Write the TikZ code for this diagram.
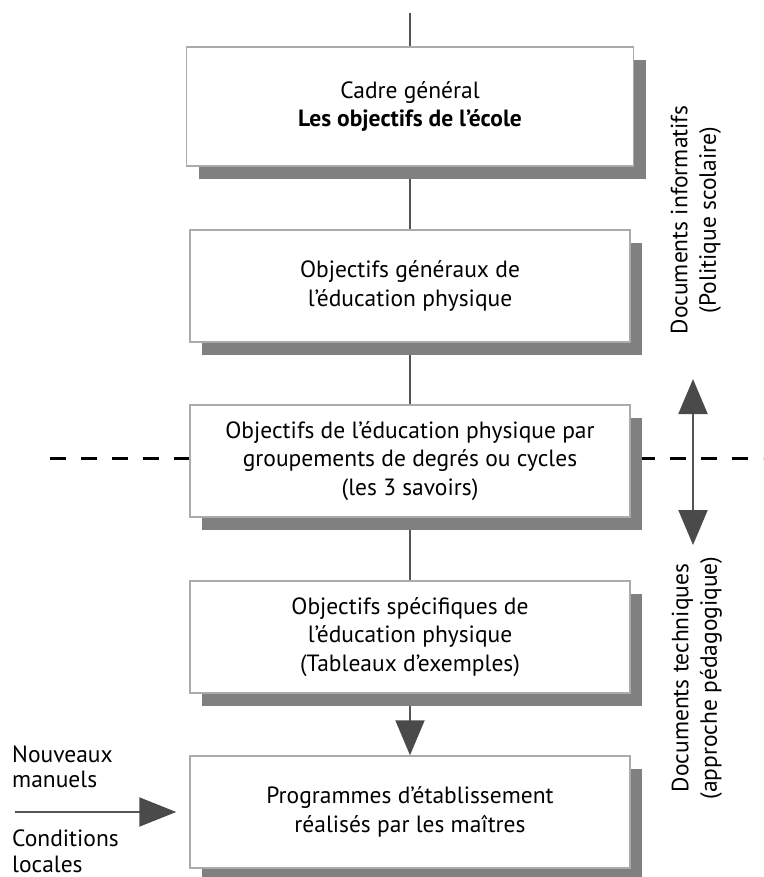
\documentclass[tikz,border=0pt]{standalone}
\usepackage{fontspec}
\setmainfont{PT Sans}
\usetikzlibrary{arrows.meta,shadows,backgrounds}
\definecolor{shgray}{HTML}{808080}
\definecolor{bordergray}{HTML}{ABABAB}
\definecolor{linegray}{HTML}{555555}
\definecolor{headgray}{HTML}{4A4A4A}
\tikzset{
  box/.style={draw=bordergray, line width=1.5pt, fill=white,
    minimum width=440pt, minimum height=112pt, inner sep=0pt, align=center,
    font=\fontsize{23.5}{28.5}\selectfont,
    drop shadow={shadow xshift=12pt, shadow yshift=-13pt, fill=shgray, opacity=1, draw=none}},
  conn/.style={draw=linegray, line width=2pt},
  bighead/.tip={Triangle[length=35pt,width=29pt,fill=headgray,color=headgray]},
  bigarrow/.style={conn, -bighead},
  dashline/.style={draw=black, line width=3pt, dash pattern=on 16pt off 15pt},
  lbl/.style={font=\fontsize{23.5}{28.5}\selectfont, inner sep=0pt},
}
\begin{document}
\begin{tikzpicture}[x=1pt,y=1pt]
\useasboundingbox (0,0) rectangle (763,-877);
% boxes
\node[box, minimum width=447pt, minimum height=119pt] (b1) at (410,-106.5)
  {Cadre général\\\textbf{Les objectifs de l’école}};
\node[box] (b2) at (410,-286) {Objectifs généraux de\\l’éducation physique};
\node[box] (b3) at (410,-461) {Objectifs de l’éducation physique par\\groupements de degrés ou cycles\\(les 3 savoirs)};
\node[box] (b4) at (410,-637) {Objectifs spécifiques de\\l’éducation physique\\(Tableaux d’exemples)};
\node[box] (b5) at (410,-812) {Programmes d’établissement\\réalisés par les maîtres};
% free coordinates
\coordinate (top) at (410,-13);
\coordinate (dl) at (50,-458);
\coordinate (dr) at (763,-458);
\coordinate (src) at (15,-812);
\coordinate (dup) at (693,-379);
\coordinate (ddn) at (693,-545);
% connectors behind boxes
\begin{scope}[on background layer]
  \draw[dashline] (dl) -- (dr);
  \draw[conn] (top) -- (b1.north);
  \draw[conn] (b1.south) -- (b2.north);
  \draw[conn] (b2.south) -- (b3.north);
  \draw[conn] (b3.south) -- (b4.north);
  \draw[bigarrow] (b4.south) -- (b5.north);
\end{scope}
\draw[conn, -{Triangle[length=37pt,width=29pt,fill=headgray,color=headgray]}] (src) -- ([xshift=-13pt]b5.west);
\draw[conn, bighead-bighead] (dup) -- (ddn);
% side labels
\node[lbl, anchor=base west] (n1) at (12,-762) {Nouveaux};
\node[lbl, anchor=base west] (n2) at (12,-787) {manuels};
\node[lbl, anchor=base west] (n3) at (12,-846) {Conditions};
\node[lbl, anchor=base west] (n4) at (12,-872) {locales};
\node[lbl, rotate=90, align=center] (ri) at (696,-220) {Documents informatifs\\(Politique scolaire)};
\node[lbl, rotate=90, align=center] (rt) at (697,-678) {Documents techniques\\(approche pédagogique)};
\end{tikzpicture}
\end{document}
